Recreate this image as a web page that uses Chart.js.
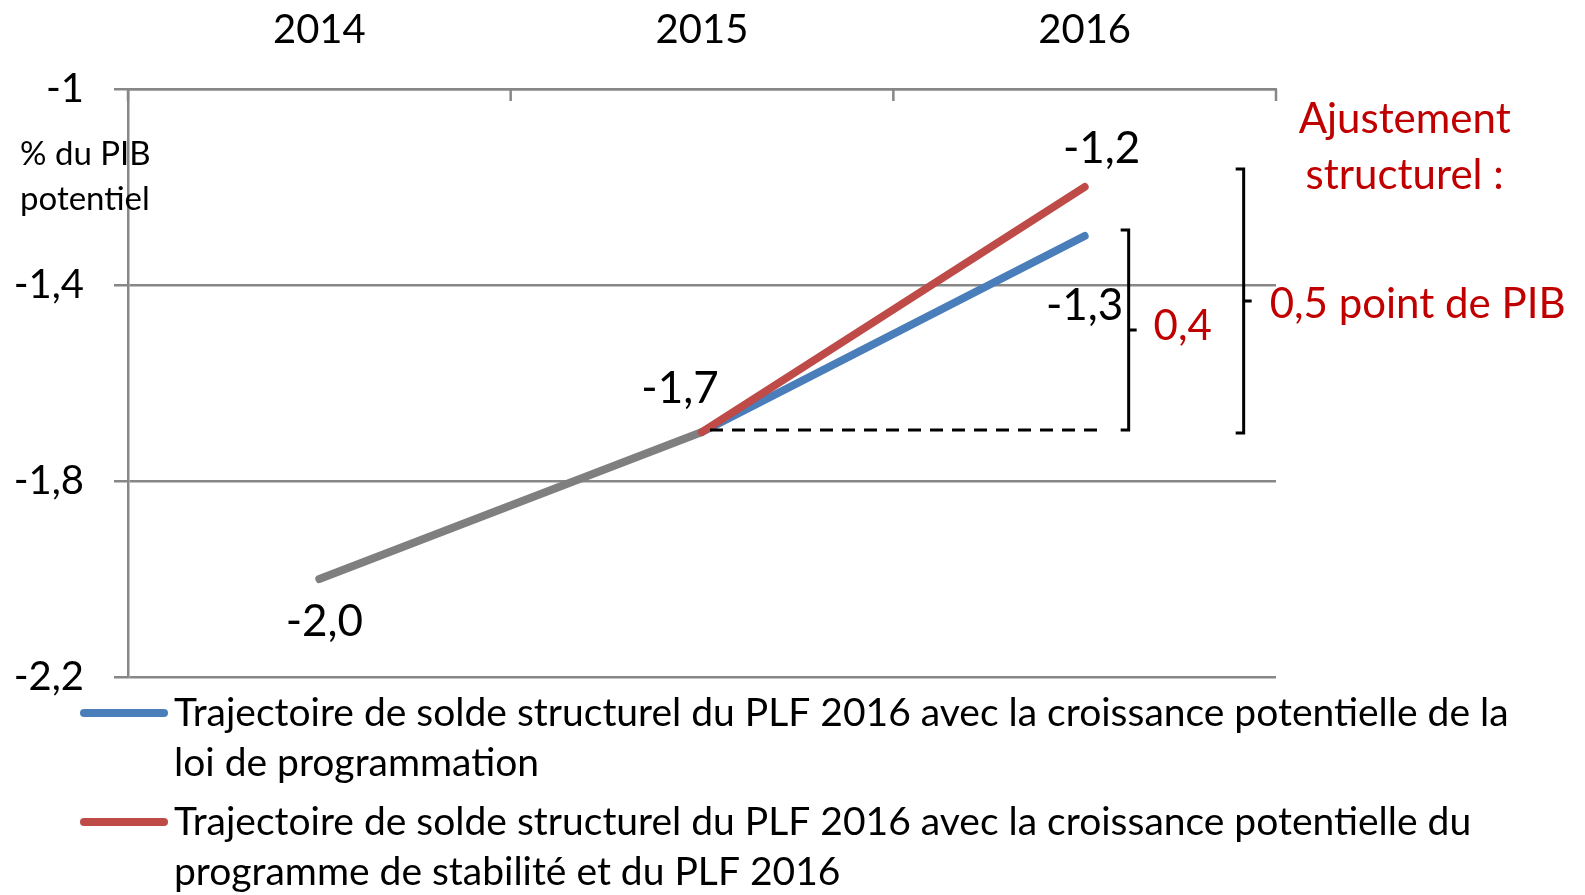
<!DOCTYPE html>
<html>
<head>
<meta charset="utf-8">
<script src="https://cdn.jsdelivr.net/npm/chart.js@4.4.0/dist/chart.umd.min.js"></script>
<style>
  html, body { margin: 0; padding: 0; background: #fff; }
  canvas { display: block; }
</style>
</head>
<body>
<canvas id="chart" width="1585" height="895"></canvas>
<script>
// données
const years = ['2014', '2015', '2016'];
const soldeLPFP = [null, -1.7, -1.3];   // croissance potentielle de la LPFP
const soldePStab = [null, -1.7, -1.2];  // croissance potentielle du PStab / PLF
const soldeCommun = [-2.0, -1.7, null]; // partie commune 2014-2015
const yTicks = [-1, -1.4, -1.8, -2.2];

const legendLPFP = ['Trajectoire de solde structurel du PLF 2016 avec la croissance potentielle de la', 'loi de programmation'];
const legendPStab = ['Trajectoire de solde structurel du PLF 2016 avec la croissance potentielle du', 'programme de stabilité et du PLF 2016'];
const unitLabel = ['% du PIB', 'potentiel'];
const ajustTitle = ['Ajustement', 'structurel :'];
const ajustLPFP = '0,4';
const ajustPStab = '0,5 point de PIB';

const BLUE = '#4a7ebb';
const RED = '#be4b48';
const GREY = '#7f7f7f';
const GRID = '#878787';
const DARKRED = '#c00000';
const FONT = 'Lato';

const fmtAxis = v => Number(v.toFixed(1)).toString().replace('.', ',');
const fmtLabel = v => v.toFixed(1).replace('.', ',');

function bracket(ctx, bx, top, bottom) {
    let mid = (top + bottom) / 2;
    ctx.beginPath();
    ctx.moveTo(bx - 8, top);
    ctx.lineTo(bx, top);
    ctx.lineTo(bx, bottom);
    ctx.lineTo(bx - 8, bottom);
    ctx.moveTo(bx, mid);
    ctx.lineTo(bx + 8, mid);
    ctx.stroke();
    return mid;
}

const decor = {
    id: 'decor',
    afterDatasetsDraw(chart) {
        const ctx = chart.ctx;
        const x = chart.scales.x, y = chart.scales.y;
        const area = chart.chartArea;
        ctx.save();

        // petites graduations de l'axe du haut, vers l'intérieur
        ctx.strokeStyle = GRID;
        ctx.lineWidth = 2.5;
        let band = x.width / years.length;
        for (let i = 0; i <= years.length; i++) {
            let px = x.left + i * band;
            ctx.beginPath();
            ctx.moveTo(px, area.top);
            ctx.lineTo(px, area.top + 12);
            ctx.stroke();
        }

        // étiquettes de données
        const mBlue = chart.getDatasetMeta(0).data;
        const mRed = chart.getDatasetMeta(1).data;
        const mGrey = chart.getDatasetMeta(2).data;
        ctx.fillStyle = '#000';
        ctx.font = '44px ' + FONT;
        ctx.textAlign = 'center';
        ctx.textBaseline = 'middle';
        ctx.fillText(fmtLabel(soldeCommun[0]), mGrey[0].x + 5, mGrey[0].y + 43);
        ctx.fillText(fmtLabel(soldeCommun[1]), mGrey[1].x - 22, mGrey[1].y - 43);
        ctx.fillText(fmtLabel(soldePStab[2]), mRed[2].x + 17, mRed[2].y - 38);
        ctx.fillText(fmtLabel(soldeLPFP[2]), mBlue[2].x, mBlue[2].y + 70);

        // ligne pointillée au niveau 2015
        let x15 = mGrey[1].x, y15 = mGrey[1].y;
        let x16 = x.getPixelForValue(2);
        ctx.strokeStyle = '#000';
        ctx.lineWidth = 3;
        ctx.setLineDash([13, 9]);
        ctx.beginPath();
        ctx.moveTo(x15 + 8, y15 - 2);
        ctx.lineTo(x16 + 16, y15 - 2);
        ctx.stroke();
        ctx.setLineDash([]);

        // accolades
        let mid1 = bracket(ctx, x16 + 44, mBlue[2].y - 6, y15 - 2);
        let mid2 = bracket(ctx, x16 + 159, mRed[2].y - 18, y15 + 1);

        ctx.fillStyle = DARKRED;
        ctx.font = '42px ' + FONT;
        ctx.textAlign = 'center';
        ctx.fillText(ajustLPFP, x16 + 98, mid1 - 4);
        ctx.fillText(ajustTitle[0], x16 + 320, area.top + 30);
        ctx.fillText(ajustTitle[1], x16 + 320, area.top + 86);
        ctx.textAlign = 'left';
        ctx.fillText(ajustPStab, x16 + 185, mid2 + 3);

        // unité
        ctx.fillStyle = '#000';
        ctx.font = '33px ' + FONT;
        ctx.fillText(unitLabel[0], 20, 154);
        ctx.fillText(unitLabel[1], 20, 199);

        // légende
        ctx.font = '40px ' + FONT;
        let w = ctx.measureText(legendLPFP[0]).width;
        let size = 40 * 1335 / w;
        ctx.font = size.toFixed(1) + 'px ' + FONT;
        let entries = [[BLUE, legendLPFP, 713], [RED, legendPStab, 822]];
        entries.forEach(function(e) {
            ctx.strokeStyle = e[0];
            ctx.lineWidth = 8;
            ctx.lineCap = 'round';
            ctx.beginPath();
            ctx.moveTo(84, e[2]);
            ctx.lineTo(164, e[2]);
            ctx.stroke();
            ctx.fillStyle = '#000';
            ctx.fillText(e[1][0], 174, e[2]);
            ctx.fillText(e[1][1], 174, e[2] + 50);
        });
        ctx.restore();
    }
};

let ctx = document.getElementById('chart').getContext('2d');
let chart = new Chart(ctx, {
    type: 'line',
    data: {
        labels: years,
        datasets: [{
            label: legendLPFP.join(' '),
            data: soldeLPFP,
            borderColor: BLUE,
            order: 1
        }, {
            label: legendPStab.join(' '),
            data: soldePStab,
            borderColor: RED,
            order: 0
        }, {
            label: '',
            data: soldeCommun,
            borderColor: GREY,
            order: 2
        }]
    },
    options: {
        responsive: false,
        animation: false,
        spanGaps: false,
        elements: {
            line: { borderWidth: 8, borderCapStyle: 'round', borderJoinStyle: 'round', tension: 0, fill: false },
            point: { radius: 0, hoverRadius: 0 }
        },
        layout: { padding: { left: 0, right: 309, top: 0, bottom: 218 } },
        scales: {
            x: {
                position: 'top',
                offset: true,
                grid: { display: false },
                border: { display: true, color: GRID, width: 2.5 },
                ticks: { color: '#000', font: { family: FONT, size: 40 }, padding: 27 },
                afterFit: s => { s.height = 89; }
            },
            y: {
                min: -2.2,
                max: -1,
                grid: { color: GRID, lineWidth: 2.5, tickLength: 14, drawTicks: true },
                border: { display: true, color: GRID, width: 2.5 },
                ticks: { color: '#000', font: { family: FONT, size: 40 }, padding: 30, callback: v => fmtAxis(v) },
                afterBuildTicks: s => { s.ticks = yTicks.map(v => ({ value: v })); },
                afterFit: s => { s.width = 128; }
            }
        },
        plugins: {
            legend: { display: false },
            tooltip: { enabled: false }
        }
    },
    plugins: [decor]
});
</script>
</body>
</html>
